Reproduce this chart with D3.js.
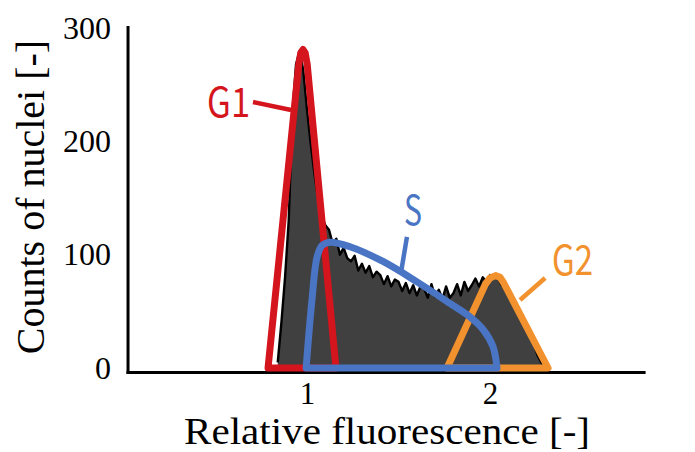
<!DOCTYPE html>
<html>
<head>
<meta charset="utf-8">
<script src="https://cdn.jsdelivr.net/npm/d3@7"></script>
<style>
  body { margin: 0; background: #ffffff; }
  svg { display: block; }
</style>
</head>
<body>
<svg id="chart" width="695" height="452"></svg>
<script>
// Flow-cytometry histogram: counts per fluorescence bin (bin width 0.02, first bin at 0.84)
const binStart = 0.84;
const binWidth = 0.02;
const counts = [
  5, 40, 80, 130, 225, 268, 280, 262, 228, 198, 172, 150, 134, 126,
  122, 110, 114, 100, 106, 97, 94, 99, 86, 92,
  84, 90, 80, 85, 82, 74, 81, 72, 78, 76,
  68, 75, 66, 73, 64, 72, 70, 62, 74, 63,
  69, 61, 72, 62, 66, 74, 64, 76, 68, 73,
  79, 72, 80, 76, 82, 79, 81, 74, 72, 64,
  61, 53, 49, 40, 36, 27, 21, 11, 5, 0
];

// Cell-cycle gates, vertices as [relative fluorescence, count]
const gateG1 = [[0.787, 0], [0.955, 268], [0.966, 278], [0.978, 281], [0.990, 278], [1.001, 268], [1.158, 0]];
const gateS = [[0.995, 0], [1.027, 60], [1.055, 98], [1.082, 108], [1.126, 111], [1.235, 107], [1.415, 94],
               [1.601, 76], [1.781, 57], [1.891, 45], [1.962, 34], [2.016, 19], [2.038, 0]];
const gateG2 = [[1.765, 0], [1.975, 74], [2.000, 79.5], [2.030, 81.5], [2.055, 80], [2.075, 75], [2.317, 0]];

const gateNames = ["G1", "S", "G2"];
const gateColors = ["#d4151d", "#4a74c4", "#f1922e"];

const xTicks = [1, 2];
const yTicks = [0, 100, 200, 300];
const xTitle = "Relative fluorescence [-]";
const yTitle = "Counts of nuclei [-]";

const svg = d3.select("#chart");

const x = d3.scaleLinear().domain([0, 2.85]).range([124, 645.6]);
const y = d3.scaleLinear().domain([0, 300]).range([368, 28]);

const axisY = y(0) + 4.5;   // baseline of the x-axis line
const axisX = x(0.022);     // position of the y-axis line

// Histogram
const hist = counts.map((c, i) => [binStart + i * binWidth, c]);
svg.append("path")
  .datum(hist)
  .attr("fill", "#404040")
  .attr("d", d3.area().x(d => x(d[0])).y0(y(0)).y1(d => y(d[1])));
svg.append("path")
  .datum(hist)
  .attr("fill", "none")
  .attr("stroke", "#000")
  .attr("stroke-width", 2.4)
  .attr("stroke-linejoin", "round")
  .attr("d", d3.line().x(d => x(d[0])).y(d => y(d[1])));

// Axes: tick labels only, lines drawn separately
const fontSerif = "'Liberation Serif', 'Times New Roman', serif";

const gy = svg.append("g")
  .attr("transform", `translate(${axisX},0)`)
  .call(d3.axisLeft(y).tickValues(yTicks).tickSize(0).tickPadding(17).tickFormat(d3.format("d")));
gy.select(".domain").remove();
gy.selectAll("text")
  .attr("font-family", fontSerif)
  .attr("font-size", 32)
  .attr("fill", "#000");

const gx = svg.append("g")
  .attr("transform", `translate(0,${axisY})`)
  .call(d3.axisBottom(x).tickValues(xTicks).tickSize(0).tickFormat(d3.format("d")));
gx.select(".domain").remove();
gx.selectAll("text")
  .attr("font-family", fontSerif)
  .attr("font-size", 31)
  .attr("fill", "#000")
  .attr("y", 9.8)
  .attr("dy", "0.71em");

svg.append("line")
  .attr("x1", axisX).attr("x2", axisX)
  .attr("y1", y(300) - 2).attr("y2", axisY + 1.5)
  .attr("stroke", "#000").attr("stroke-width", 3);
svg.append("line")
  .attr("x1", axisX - 1.5).attr("x2", x.range()[1])
  .attr("y1", axisY).attr("y2", axisY)
  .attr("stroke", "#000").attr("stroke-width", 3);

// Axis titles
svg.append("text")
  .attr("x", 387).attr("y", 444)
  .attr("text-anchor", "middle")
  .attr("font-family", fontSerif)
  .attr("font-size", 37)
  .attr("textLength", 406)
  .attr("lengthAdjust", "spacingAndGlyphs")
  .text(xTitle);
svg.append("text")
  .attr("transform", "translate(44,197) rotate(-90)")
  .attr("text-anchor", "middle")
  .attr("font-family", fontSerif)
  .attr("font-size", 40)
  .text(yTitle);

// Gates
const linePath = d3.line().x(d => x(d[0])).y(d => y(d[1]));
const smoothPath = d3.line().x(d => x(d[0])).y(d => y(d[1])).curve(d3.curveCatmullRom.alpha(0.5));

const gateOutlines = [
  linePath(gateG1) + "Z",
  linePath(gateG2) + "Z",
  smoothPath(gateS) + "Z"
];
const gateOrder = [0, 2, 1];
gateOutlines.forEach((d, i) => {
  svg.append("path")
    .attr("d", d)
    .attr("fill", "none")
    .attr("stroke", gateColors[gateOrder[i]])
    .attr("stroke-width", 7)
    .attr("stroke-linejoin", "round");
});

// Gate labels with leader lines (data units)
const labels = [
  { gate: 0, at: [0.454, 221.5], width: 43, leader: [[0.705, 234.7], [0.913, 227.6]] },
  { gate: 1, at: [1.530, 126.2], width: 18, leader: [[1.546, 115.6], [1.514, 84.7]] },
  { gate: 2, at: [2.339, 82.0], width: 41, leader: [[2.301, 79.4], [2.164, 60.0]] }
];
labels.forEach(l => {
  const c = gateColors[l.gate];
  svg.append("line")
    .attr("x1", x(l.leader[0][0])).attr("y1", y(l.leader[0][1]))
    .attr("x2", x(l.leader[1][0])).attr("y2", y(l.leader[1][1]))
    .attr("stroke", c).attr("stroke-width", 4.5);
  svg.append("text")
    .attr("x", x(l.at[0])).attr("y", y(l.at[1]))
    .attr("font-family", "'Noto Sans CJK JP', 'Noto Sans', sans-serif")
    .attr("font-size", 41)
    .attr("textLength", l.width)
    .attr("lengthAdjust", "spacingAndGlyphs")
    .attr("fill", c)
    .text(gateNames[l.gate]);
});
</script>
</body>
</html>
